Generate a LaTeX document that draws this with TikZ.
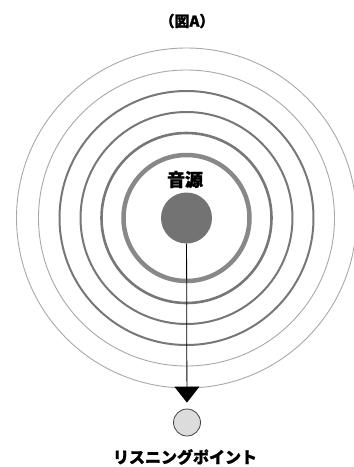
\documentclass[tikz,border=0pt]{standalone}
\usepackage{fontspec}
\newfontfamily\jp{Noto Sans CJK JP}[BoldFeatures={FakeBold=1.2}]
\usetikzlibrary{arrows.meta}

\definecolor{ringgray}{HTML}{777777}
\definecolor{thingray}{HTML}{A8A8A8}
\definecolor{srcgray}{HTML}{737373}
\definecolor{lpgray}{HTML}{DCDCDC}

\tikzset{
  ring/.style={draw=ringgray, line width=#1},
  thinring/.style={draw=thingray, line width=0.9pt},
  lbl/.style={font=\jp\bfseries\fontsize{#1}{#1}\selectfont, inner sep=0pt},
}

\begin{document}
\begin{tikzpicture}[x=1pt, y=1pt, >=Stealth]
    \useasboundingbox (0,0) rectangle (354,-467);
    % 波紋
    \draw[thinring] (186.5,-218) circle (170);
    \draw[thinring] (186.5,-218) circle (148);
    \draw[ring=2pt] (186.5,-218) circle (127);
    \draw[ring=2pt] (186.5,-218) circle (106);
    \draw[ring=2.6pt] (186.5,-218) circle (85);
    \draw[draw=srcgray!85, line width=4.5pt] (186.5,-218) circle (63);
    % ノード
    \node[lbl=15] (title) at (187,-21) {（図A）};
    \node[circle, fill=srcgray, minimum size=51pt, inner sep=0pt] (src) at (186.5,-218) {};
    \node[lbl=18] (srclbl) at (185,-179.5) {音源};
    \node[circle, draw=black!75, fill=lpgray, line width=0.8pt, minimum size=27pt, inner sep=0pt] (lp) at (187,-422.5) {};
    \node[lbl=16] (lplbl) at (185,-457) {リスニングポイント};
    % 矢印
    \draw[-{Triangle[width=25pt, length=16pt]}, line width=0.8pt, shorten >=6pt] (src) -- (lp);
\end{tikzpicture}
\end{document}
